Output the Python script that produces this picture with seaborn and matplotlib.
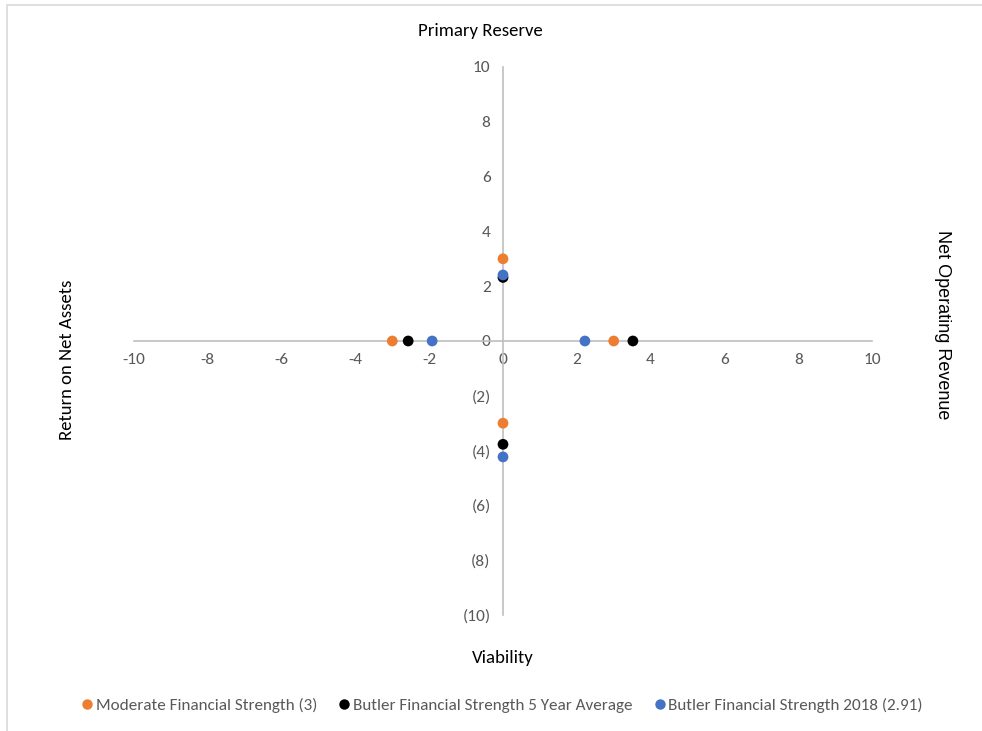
import matplotlib
matplotlib.use("Agg")
import matplotlib.pyplot as plt
import matplotlib.patches as mpatches
from matplotlib.lines import Line2D
import seaborn as sns
import pandas as pd

# Four-quadrant ratio positions: top = Primary Reserve, right = Net Operating Revenue,
# bottom = Viability, left = Return on Net Assets
series_names = [
    "Moderate Financial Strength (3)",
    "Butler Financial Strength 5 Year Average",
    "Butler Financial Strength 2018 (2.91)",
]
moderate_x = [0, 3.0, 0, -3.0]
moderate_y = [3.0, 0, -3.0, 0]
avg5_x = [0, 3.52, 0, -2.57]
avg5_y = [2.32, 0, -3.77, 0]
y2018_x = [0, 2.22, 0, -1.92]
y2018_y = [2.41, 0, -4.23, 0]
colors = ["#ED7D31", "#000000", "#4472C4"]

x_ticks = list(range(-10, 11, 2))
y_ticks = list(range(-10, 11, 2))
y_tick_labels = [f"({abs(v)})" if v < 0 else str(v) for v in y_ticks]

frames = []
for name, xs, ys in zip(series_names,
                        [moderate_x, avg5_x, y2018_x],
                        [moderate_y, avg5_y, y2018_y]):
    frames.append(pd.DataFrame({"x": xs, "y": ys, "series": name}))
df = pd.concat(frames, ignore_index=True)

sns.set_style("white")
plt.rcParams["font.family"] = ["Carlito", "Lato", "DejaVu Sans"]

W, H = 982, 731
fig = plt.figure(figsize=(W / 100, H / 100), dpi=100)
ax = fig.add_axes([134 / W, 1 - 615 / H, (872 - 134) / W, (615 - 67) / H])

sns.scatterplot(data=df, x="x", y="y", hue="series", hue_order=series_names,
                palette=colors, s=60, edgecolor="none", linewidth=0,
                ax=ax, legend=False, zorder=3, clip_on=False)

ax.set_xlim(-10, 10)
ax.set_ylim(-10, 10)
ax.set_xlabel("")
ax.set_ylabel("")

axis_color = "#BFBFBF"
for side in ("top", "right"):
    ax.spines[side].set_visible(False)
ax.spines["left"].set_position(("data", 0))
ax.spines["bottom"].set_position(("data", 0))
for side in ("left", "bottom"):
    ax.spines[side].set_color(axis_color)
    ax.spines[side].set_linewidth(1.2)

ax.set_xticks(x_ticks)
ax.set_xticklabels([str(v) for v in x_ticks])
ax.set_yticks(y_ticks)
ax.set_yticklabels(y_tick_labels)
ax.tick_params(axis="both", length=0, labelsize=12.5, labelcolor="#595959")
ax.tick_params(axis="x", pad=9)
ax.tick_params(axis="y", pad=9)
ax.set_facecolor("none")

# Quadrant titles
title_kw = dict(fontsize=13.5, color="#000000")
fig.text(480 / W, 1 - 31 / H, "Primary Reserve", ha="center", va="center", **title_kw)
fig.text(503 / W, 1 - 658 / H, "Viability", ha="center", va="center", **title_kw)
fig.text(67 / W, 1 - 360 / H, "Return on Net Assets", ha="center", va="center",
         rotation=90, **title_kw)
fig.text(943 / W, 1 - 325 / H, "Net Operating Revenue", ha="center", va="center",
         rotation=-90, fontsize=13, color="#000000",
         family=["Liberation Sans", "DejaVu Sans"])

# Legend
handles = [Line2D([0], [0], marker="o", linestyle="none", markersize=7.5,
                  markerfacecolor=c, markeredgecolor="none") for c in colors]
fig.legend(handles, series_names, loc="center", bbox_to_anchor=(502 / W, 1 - 705 / H),
           ncol=3, frameon=False, fontsize=12.3, handlelength=0.7, handletextpad=0.15,
           columnspacing=1.25, labelcolor="#595959")

# Chart-area border
fig.patches.append(mpatches.Rectangle((7 / W, -0.01), 1.05, 1 - 5 / H + 0.01,
                                      transform=fig.transFigure, fill=False,
                                      edgecolor="#D9D9D9", linewidth=1.2))

fig.savefig("out.png", dpi=100, facecolor="white")
